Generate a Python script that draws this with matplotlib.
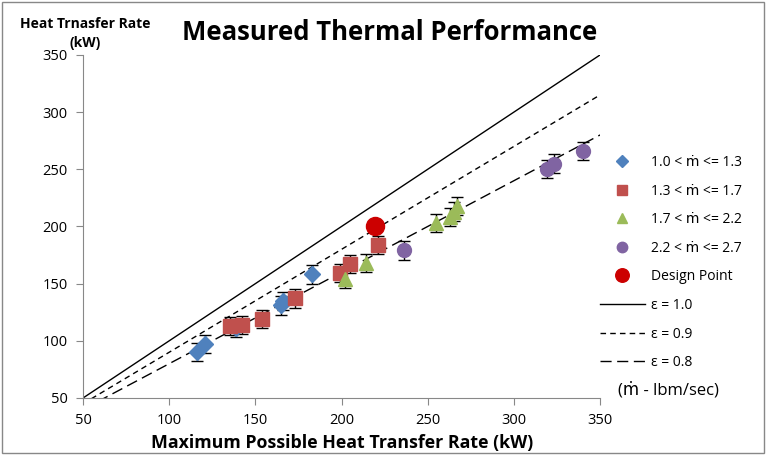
import matplotlib.pyplot as plt
from matplotlib.patches import Rectangle

plt.rcParams['font.family'] = ['Open Sans', 'DejaVu Sans']

# measured points (kW)
blue_x = [116, 121, 139, 165, 166, 183]
blue_y = [90, 97, 111, 131, 135, 158]
red_x = [135, 142, 154, 173, 199, 205, 221]
red_y = [113, 114, 119, 137, 159, 167, 184]
green_x = [202, 214, 255, 263, 265, 267]
green_y = [154, 168, 203, 208, 213, 218]
purple_x = [236, 319, 323, 340]
purple_y = [179, 250, 255, 266]
design_x = [219.5]
design_y = [200.5]
err = 8

# effectiveness lines
eff = [1.0, 0.9, 0.8]
line_x = [50, 350]

fig = plt.figure(figsize=(7.66, 4.55), dpi=100)
ax = fig.add_axes([0.1084, 0.1253, 0.675, 0.754])

styles = ['-', (0, (4, 3)), (0, (8, 4))]
for e, ls in zip(eff, styles):
    ax.plot(line_x, [e * v for v in line_x], color='black', lw=1, ls=ls,
            label='\u03b5 = %.1f' % e, zorder=2)

def series(x, y, marker, color, ms, label):
    ax.errorbar(x, y, yerr=err, fmt='none', ecolor='black', elinewidth=1,
                capsize=4, capthick=1, zorder=3)
    ax.plot(x, y, ls='none', marker=marker, color=color, ms=ms,
            label=label, zorder=4)

series(blue_x, blue_y, 'D', '#4F81BD', 8, '1.0 < \u1e41 <= 1.3')
series(red_x, red_y, 's', '#C0504D', 10, '1.3 < \u1e41 <= 1.7')
series(green_x, green_y, '^', '#9BBB59', 10, '1.7 < \u1e41 <= 2.2')
series(purple_x, purple_y, 'o', '#8064A2', 10, '2.2 < \u1e41 <= 2.7')
ax.plot(design_x, design_y, ls='none', marker='o', color='#CC0000', ms=13,
        label='Design Point', zorder=5)

ax.set_xlim(50, 350)
ax.set_ylim(50, 350)
ax.set_xticks(range(50, 351, 50))
ax.set_yticks(range(50, 351, 50))
for s in ['top', 'right']:
    ax.spines[s].set_visible(False)
for s in ['left', 'bottom']:
    ax.spines[s].set_color('#888888')
ax.tick_params(direction='out', length=5, color='#888888', labelsize=10.5, pad=6)

fig.text(0.509, 0.928, 'Measured Thermal Performance', ha='center', va='center',
         fontsize=18.5, fontweight='bold')
fig.text(0.447, 0.026, 'Maximum Possible Heat Transfer Rate (kW)', ha='center',
         va='center', fontsize=12.8, fontweight='bold')
fig.text(0.111, 0.947, 'Heat Trnasfer Rate', ha='center', va='center',
         fontsize=10, fontweight='bold')
fig.text(0.111, 0.905, '(kW)', ha='center', va='center',
         fontsize=10, fontweight='bold')

h, l = ax.get_legend_handles_labels()
order = [3, 4, 5, 6, 7, 0, 1, 2]
ax.legend([h[i] for i in order], [l[i] for i in order], loc='upper left',
          bbox_to_anchor=(0.976, 0.745), frameon=False, fontsize=10,
          handlelength=3.2, handletextpad=0.45, labelspacing=0.98, numpoints=1,
          markerscale=0.75)
fig.text(0.873, 0.143, '(\u1e41 - lbm/sec)', ha='center', va='center', fontsize=12)

fig.patches.append(Rectangle((0.002, 0.004), 0.996, 0.992, transform=fig.transFigure,
                             fill=False, edgecolor='#888888', lw=1))
fig.savefig('out.png')
